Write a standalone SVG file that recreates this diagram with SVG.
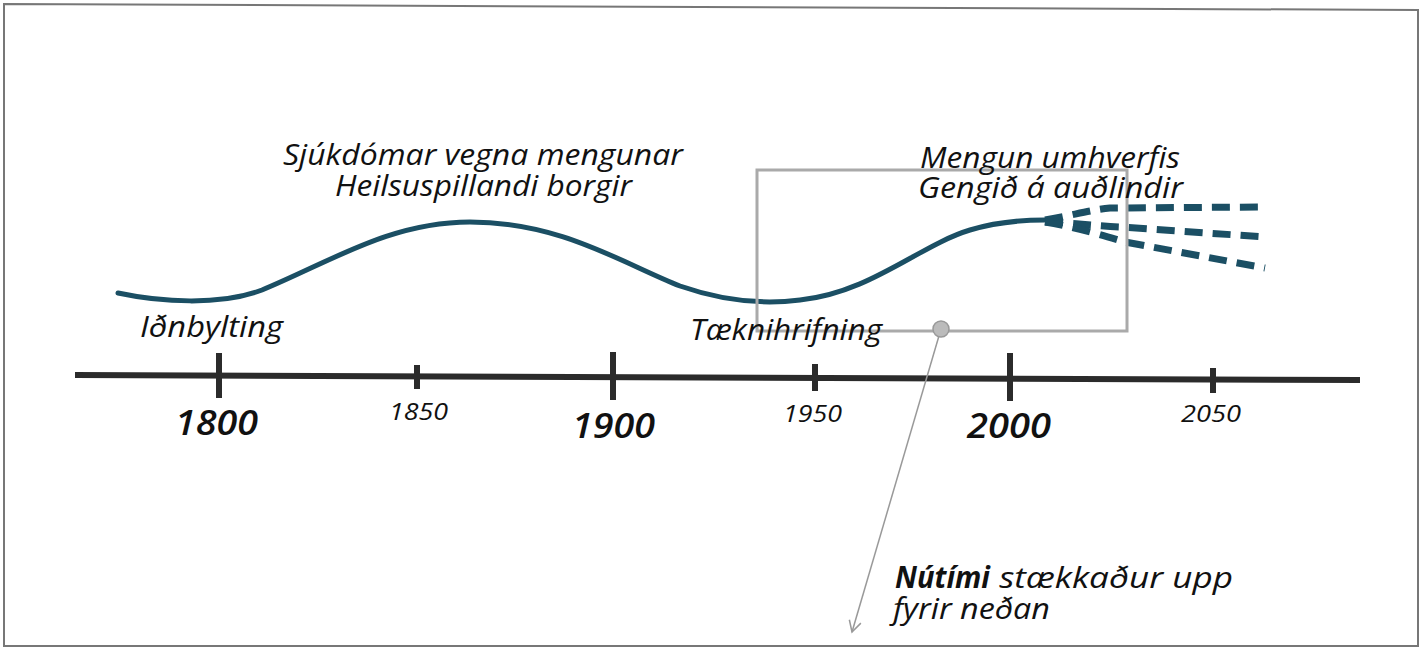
<svg xmlns="http://www.w3.org/2000/svg" width="1423" height="651" viewBox="0 0 1423 651">
<defs>
<style>
.t{font-family:"Open Sans","Noto Sans","DejaVu Sans",sans-serif;font-style:italic;fill:#111}
.lbl{font-size:30px}
.yb{font-size:34px;font-weight:600}
.ys{font-size:23px}
.tick{stroke:#2b2b2b;stroke-width:6}
.dash{fill:none;stroke:#1b4f64;stroke-width:7;stroke-dasharray:18 10}
</style>
<marker id="arr" markerWidth="14" markerHeight="14" refX="12" refY="7" orient="auto" markerUnits="userSpaceOnUse">
<path d="M1,1 L12,7 L1,13" fill="none" stroke="#999" stroke-width="1.5"/>
</marker>
</defs>
<rect width="1423" height="651" fill="#fff"/>
<g id="frame" fill="none" stroke="#777" stroke-width="2">
<path d="M4,4 L1418,10 L1418,646 L4,646 Z"/>
</g>
<g id="axis">
<line x1="75" y1="375" x2="1360" y2="380" stroke="#2b2b2b" stroke-width="6"/>
<line class="tick" x1="219" y1="353" x2="219" y2="398"/>
<line class="tick" x1="417" y1="365" x2="417" y2="389"/>
<line class="tick" x1="613" y1="352" x2="613" y2="400"/>
<line class="tick" x1="815" y1="364" x2="815" y2="391"/>
<line class="tick" x1="1010" y1="353" x2="1010" y2="401"/>
<line class="tick" x1="1213" y1="368" x2="1213" y2="393"/>
<text class="t yb" x="175" y="435" textLength="83" lengthAdjust="spacingAndGlyphs">1800</text>
<text class="t ys" x="389" y="420" textLength="59" lengthAdjust="spacingAndGlyphs">1850</text>
<text class="t yb" x="572" y="438" textLength="83" lengthAdjust="spacingAndGlyphs">1900</text>
<text class="t ys" x="783" y="422" textLength="59" lengthAdjust="spacingAndGlyphs">1950</text>
<text class="t yb" x="967" y="438" textLength="84" lengthAdjust="spacingAndGlyphs">2000</text>
<text class="t ys" x="1181" y="422" textLength="60" lengthAdjust="spacingAndGlyphs">2050</text>
</g>
<g id="curve">
<path d="M118,293 C160,302 220,306 262,290 C330,262 390,222 470,222 C560,222 620,262 680,286 C720,300 760,305 800,300 C870,293 920,245 970,230 C1000,221 1025,220 1045,220" fill="none" stroke="#1b4f64" stroke-width="5" stroke-linecap="round"/>
<path class="dash" d="M1045,220 C1070,216 1090,210 1110,208 L1265,207"/>
<path class="dash" d="M1045,222 C1075,223 1095,226 1120,227 L1265,237"/>
<path class="dash" d="M1045,222 C1080,228 1105,236 1125,242 L1265,268"/>
</g>
<g id="zoombox">
<rect x="757" y="170" width="370" height="161" fill="none" stroke="#aaa" stroke-width="3"/>
<line x1="941" y1="329" x2="852" y2="632" stroke="#999" stroke-width="1.5" marker-end="url(#arr)"/>
<circle cx="941" cy="329" r="8" fill="#bbb" stroke="#999" stroke-width="1.5"/>
</g>
<g id="labels">
<text class="t lbl" x="283" y="165" textLength="400" lengthAdjust="spacingAndGlyphs">Sjúkdómar vegna mengunar</text>
<text class="t lbl" x="335" y="196" textLength="297" lengthAdjust="spacingAndGlyphs">Heilsuspillandi borgir</text>
<text class="t lbl" x="140" y="337" textLength="143" lengthAdjust="spacingAndGlyphs">Iðnbylting</text>
<text class="t lbl" x="690" y="340" textLength="192" lengthAdjust="spacingAndGlyphs">Tæknihrifning</text>
<text class="t lbl" x="920" y="168" textLength="260" lengthAdjust="spacingAndGlyphs">Mengun umhverfis</text>
<text class="t lbl" x="918" y="198" textLength="265" lengthAdjust="spacingAndGlyphs">Gengið á auðlindir</text>
<text class="t lbl" x="895" y="588"><tspan font-weight="700" textLength="95" lengthAdjust="spacingAndGlyphs">Nútími</tspan><tspan textLength="243" lengthAdjust="spacingAndGlyphs"> stækkaður upp</tspan></text>
<text class="t lbl" x="893" y="619" textLength="157" lengthAdjust="spacingAndGlyphs">fyrir neðan</text>
</g>
</svg>
